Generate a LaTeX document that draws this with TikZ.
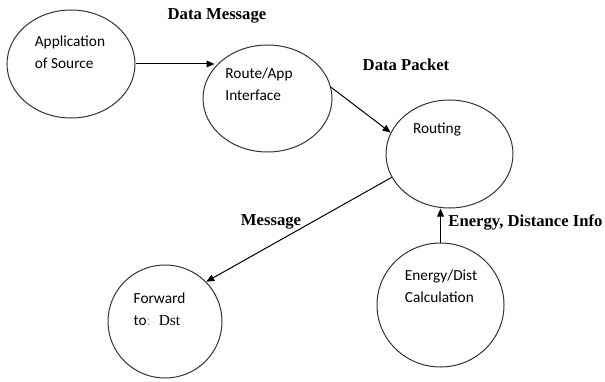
\documentclass[tikz,border=0pt]{standalone}
\usepackage{fontspec}
\setmainfont{Liberation Serif}
\newfontfamily\calibri{Carlito}
\usetikzlibrary{shapes.geometric, arrows.meta}

\tikzset{
  blob/.style={ellipse, draw=black!80, line width=0.75pt, inner sep=0pt},
  intext/.style={font=\calibri\fontsize{11.5}{16.5}\selectfont, align=left, inner sep=0pt},
  tag/.style={font=\bfseries\fontsize{12.5}{15}\selectfont, inner sep=0pt},
  link/.style={line width=0.75pt, -{Triangle[length=6pt, width=5pt]}}
}

\begin{document}
\begin{tikzpicture}[x=0.75pt, y=-0.75pt]
  \useasboundingbox (0, 0) rectangle (605, 381);

  \node[blob, minimum width=96pt, minimum height=81pt] (app) at (71, 64) {};
  \node[blob, minimum width=96.75pt, minimum height=80.25pt] (route) at (267.5, 98.5) {};
  \node[blob, minimum width=95.25pt, minimum height=81pt] (routing) at (449.5, 154) {};
  \node[blob, minimum width=85.5pt, minimum height=84.75pt] (forward) at (165, 321.5) {};
  \node[blob, minimum width=95.25pt, minimum height=93pt] (energy) at (440.5, 305) {};

  \node[intext] (appText) at (70, 52) {Application\\of Source};
  \node[intext] (routeText) at (259, 84.5) {Route/App\\Interface};
  \node[intext] (routingText) at (437, 130) {Routing};
  \node[intext] (forwardText) at (159.5, 309) {Forward\\to{\color{black!30}:}\hspace{6pt}{\rmfamily Dst}};
  \node[intext] (energyText) at (441, 286) {Energy/Dist\\Calculation};

  \node[tag] (dataMsg) at (217, 16) {Data Message};
  \node[tag] (dataPkt) at (406, 65) {Data Packet};
  \node[tag] (msg) at (271, 222) {Message};
  \node[tag] (info) at (525.5, 222) {Energy, Distance Info};

  \draw[link] (app.east) -- ([xshift=9pt]route.west |- app.east);
  \draw[link] (route.10) -- (routing.160);
  \draw[link] (routing.202) -- (forward.44);
  \draw[link] (energy.north) -- (energy.north |- routing.south);
\end{tikzpicture}
\end{document}
